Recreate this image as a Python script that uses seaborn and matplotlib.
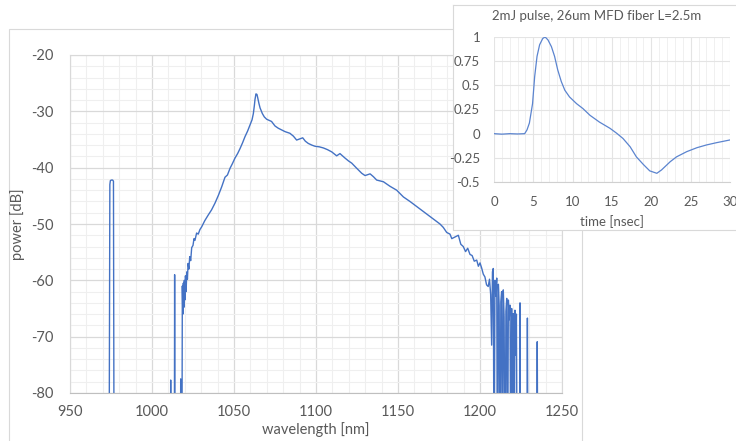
import matplotlib
matplotlib.use("Agg")
import matplotlib.pyplot as plt
from matplotlib.patches import Rectangle
from matplotlib.ticker import MultipleLocator
import seaborn as sns

# spectrum: wavelength [nm] and power [dB]; -100 means "below the axis"
wavelength = [
    973.8, 974.3, 974.6, 975.2, 976.0, 976.5, 976.9,
    1011.2, 1011.4, 1011.6, 1013.6, 1013.8, 1014.0, 1017.3, 1017.5, 1017.7,
    1018.2, 1018.5, 1018.8, 1019.1, 1019.4, 1019.7, 1020.0, 1020.4, 1020.8, 1021.2,
    1021.6, 1022.0, 1022.5, 1023.0, 1023.6, 1024.2, 1025.0, 1025.6, 1026.2, 1027.2,
    1028.2, 1029.2, 1030.3, 1032.2, 1034.3, 1036.3, 1038.4, 1040.5, 1042.5, 1044.5,
    1046.0, 1047.6, 1049.0, 1050.6, 1052.2, 1053.7, 1055.2, 1056.7, 1058.3, 1059.8,
    1061.0, 1061.8, 1062.4, 1062.8, 1063.4, 1064.0, 1064.4, 1065.2, 1065.9, 1067.3,
    1068.5, 1069.9, 1072.9, 1075.0, 1077.0, 1079.0, 1081.1, 1084.1, 1086.2, 1088.2,
    1090.0, 1091.9, 1093.5, 1095.3, 1097.5, 1099.4, 1102.0, 1104.5, 1107.0, 1109.6,
    1112.6, 1114.6, 1117.7, 1119.8, 1121.8, 1124.8, 1127.9, 1129.9, 1133.0, 1135.0,
    1137.0, 1141.1, 1145.1, 1149.2, 1153.3, 1157.3, 1161.4, 1165.4, 1169.5, 1173.6,
    1175.6, 1177.6, 1179.7, 1181.7, 1182.8, 1184.8, 1186.8, 1188.3, 1189.8, 1191.2,
    1192.5, 1193.9, 1195.2, 1196.5, 1198.0, 1199.0, 1200.0, 1201.0, 1202.0, 1203.0,
    1204.0, 1205.0, 1205.8, 1206.5, 1207.1, 1207.6, 1208.1, 1208.6, 1209.1, 1209.6,
    1210.2, 1210.7, 1211.2, 1211.7, 1212.2, 1212.7, 1213.2, 1213.7, 1214.2, 1214.7,
    1215.3, 1215.8, 1216.3, 1216.8, 1217.3, 1217.8, 1218.3, 1218.8, 1219.3, 1219.8,
    1220.3, 1220.8, 1221.3, 1221.7, 1222.2, 1222.7, 1223.2, 1224.0, 1224.4, 1224.8,
    1228.5, 1228.9, 1229.3, 1234.5, 1234.9, 1235.3, 1250.0,
]
power = [
    -100, -43.0, -42.3, -42.2, -42.2, -42.4, -100,
    -100, -77.7, -100, -100, -59.0, -100, -100, -77.5, -100,
    -100, -61.0, -66.0, -60.5, -64.8, -60.0, -63.5, -59.2, -62.0, -58.5,
    -59.8, -57.0, -58.0, -55.8, -56.5, -54.2, -53.8, -52.6, -52.9, -51.6,
    -51.8, -51.0, -50.5, -49.4, -48.4, -47.5, -46.3, -44.9, -43.4, -41.7,
    -41.3, -40.1, -39.3, -38.3, -37.5, -36.6, -35.6, -34.5, -33.5, -32.4,
    -31.5, -30.4, -29.0, -27.9, -26.9, -27.0, -27.5, -28.6, -29.4, -30.4,
    -31.0, -31.4, -31.8, -32.6, -33.0, -33.3, -33.6, -33.9, -34.4, -35.1,
    -34.9, -34.7, -35.3, -35.7, -36.0, -36.2, -36.3, -36.5, -36.8, -37.2,
    -37.9, -37.5, -38.3, -38.8, -39.2, -40.1, -41.0, -41.4, -41.1, -41.6,
    -42.2, -42.5, -43.3, -44.0, -45.2, -46.0, -46.9, -47.8, -48.7, -49.6,
    -50.0, -50.6, -51.5, -51.8, -52.6, -52.3, -52.0, -53.6, -54.0, -54.9,
    -54.3, -55.4, -55.6, -56.6, -56.4, -57.5, -56.9, -57.8, -58.9, -59.4,
    -60.8, -61.1, -59.8, -62.5, -71.5, -58.5, -57.9, -100, -60.0, -62.8,
    -59.6, -100, -60.7, -64.5, -100, -63.8, -62.0, -100, -61.7, -66.5,
    -100, -65.5, -63.2, -100, -63.5, -67.0, -64.4, -100, -65.0, -100,
    -65.9, -100, -65.3, -73.3, -66.0, -100, -100, -100, -64.0, -100,
    -100, -66.7, -100, -100, -70.9, -100, -100,
]

# inset: pulse shape
time_ns = [0, 1, 2, 3, 3.9, 4.2, 4.5, 4.9, 5.17, 5.47, 5.8, 6.2, 6.5, 6.86, 7.3,
           7.7, 8.1, 8.55, 9.0, 9.6, 10.5, 11.3, 12.2, 13.4, 14.75, 15.6, 16.4,
           17.3, 18.1, 19.0, 19.8, 20.7, 21.3, 22.4, 23.2, 24.5, 25.8, 27.0, 28.3, 30]
pulse = [0, -0.005, 0.0, -0.003, 0.0, 0.04, 0.11, 0.31, 0.59, 0.80, 0.92, 0.985,
         1.0, 0.97, 0.90, 0.80, 0.66, 0.54, 0.45, 0.38, 0.31, 0.26, 0.19, 0.12,
         0.055, 0.004, -0.05, -0.135, -0.24, -0.32, -0.385, -0.41, -0.375, -0.29,
         -0.24, -0.186, -0.145, -0.117, -0.093, -0.065]

x_ticks = [950, 1000, 1050, 1100, 1150, 1200, 1250]
y_ticks = [-80, -70, -60, -50, -40, -30, -20]
inset_xticks = [0, 5, 10, 15, 20, 25, 30]
inset_yticks = [-0.5, -0.25, 0, 0.25, 0.5, 0.75, 1]
inset_ylabels = ["-0.5", "-0.25", "0", "0.25", "0.5", "0.75", "1"]

sns.set_style("white")
plt.rcParams['font.family'] = ['Lato', 'DejaVu Sans']
plt.rcParams['axes.unicode_minus'] = False

W, H = 736, 441
fig = plt.figure(figsize=(W / 100, H / 100), dpi=100)

text_c = "#595959"
line_c = "#4472C4"
major_c = "#d9d9d9"
minor_c = "#efefef"


def fbox(l, t, r, b):
    return [l / W, 1 - b / H, (r - l) / W, (b - t) / H]


# outer chart frame of the main chart
fig.add_artist(Rectangle((9 / W, -0.1), (582 - 9) / W, 0.1 + 1 - 29 / H,
                         transform=fig.transFigure, fill=False,
                         edgecolor=major_c, lw=0.8, zorder=0))

ax = fig.add_axes(fbox(70, 55, 562, 393))
ax.set_zorder(1)
sns.lineplot(x=wavelength, y=power, ax=ax, sort=False, estimator=None,
             color=line_c, lw=1.0)
ax.set_xlim(950, 1250)
ax.set_ylim(-80, -20)
ax.set_xticks(x_ticks)
ax.set_yticks(y_ticks)
ax.xaxis.set_minor_locator(MultipleLocator(10))
ax.yaxis.set_minor_locator(MultipleLocator(2))
ax.grid(True, which="major", color=major_c, lw=0.9)
ax.grid(True, which="minor", color=minor_c, lw=0.8)
ax.set_axisbelow(True)
ax.tick_params(which="both", length=0, labelsize=10.5, colors=text_c)
ax.tick_params(axis="x", pad=9)
ax.tick_params(axis="y", pad=12)
for s in ["top", "right", "left"]:
    ax.spines[s].set_color(major_c)
    ax.spines[s].set_linewidth(0.8)
ax.spines["bottom"].set_color("#bfbfbf")
ax.set_xlabel("wavelength [nm]", fontsize=10.5, color=text_c, labelpad=2)
ax.set_ylabel("power [dB]", fontsize=10.5, color=text_c, labelpad=4)

# inset box
box = fig.add_axes(fbox(453, 5, 800, 230))
box.set_zorder(2)
box.set_facecolor("white")
box.set_xticks([])
box.set_yticks([])
for s in box.spines.values():
    s.set_color(major_c)
    s.set_linewidth(0.8)

ins = fig.add_axes(fbox(494, 37, 730, 182))
ins.set_zorder(3)
sns.lineplot(x=time_ns, y=pulse, ax=ins, sort=False, estimator=None,
             color="#5b84cf", lw=0.9)
ins.set_xlim(0, 30)
ins.set_ylim(-0.5, 1)
ins.set_xticks(inset_xticks)
ins.set_yticks(inset_yticks)
ins.set_yticklabels(inset_ylabels)
ins.xaxis.set_minor_locator(MultipleLocator(1))
ins.grid(True, which="major", color="#e4e4e4", lw=0.8)
ins.grid(True, which="minor", axis="x", color="#f0f0f0", lw=0.7)
ins.set_axisbelow(True)
ins.tick_params(which="both", length=0, labelsize=9.5, colors=text_c)
ins.tick_params(axis="x", pad=10)
ins.tick_params(axis="y", pad=10)
for s in ["top", "right", "left"]:
    ins.spines[s].set_visible(False)
ins.spines["bottom"].set_color("#d0d0d0")
ins.set_xlabel("time [nsec]", fontsize=9.5, color=text_c, labelpad=5)
fig.text(597 / W, 1 - 16 / H, "2mJ pulse, 26um MFD fiber L=2.5m", fontsize=9.5,
         color=text_c, ha="center", va="center", zorder=4)

fig.savefig("out.png", dpi=100, facecolor="white")
